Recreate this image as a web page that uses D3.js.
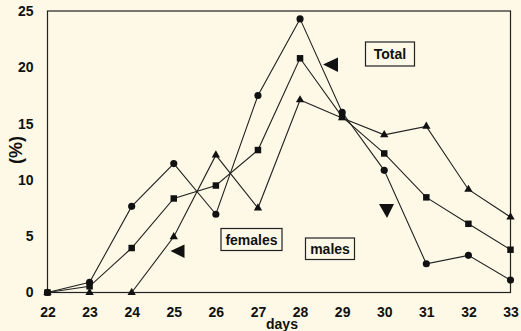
<!DOCTYPE html>
<html>
<head>
<meta charset="utf-8">
<script src="https://cdn.jsdelivr.net/npm/d3@7"></script>
<style>
  body { margin: 0; background: #fdf9e6; }
  svg { display: block; font-family: Arial, "Liberation Sans", sans-serif; }
</style>
</head>
<body>
<div id="chart"></div>
<script>
// data
let days = [22, 23, 24, 25, 26, 27, 28, 29, 30, 31, 32, 33];
let males = [0, 0.9, 7.65, 11.45, 6.95, 17.5, 24.3, 16.0, 10.85, 2.55, 3.3, 1.1];
let total = [0, 0.55, 3.95, 8.35, 9.5, 12.65, 20.8, 15.6, 12.35, 8.45, 6.1, 3.8];
let females = [0, 0, 0, 4.95, 12.2, 7.5, 17.1, 15.5, 14.0, 14.75, 9.15, 6.7];
let yTicks = [0, 5, 10, 15, 20, 25];

let width = 521, height = 331;
let x = d3.scaleLinear().domain([22, 33]).range([47.5, 510.5]);
let y = d3.scaleLinear().domain([0, 25]).range([292.5, 11]);

let svg = d3.select("#chart").append("svg")
    .attr("width", width).attr("height", height);

svg.append("rect").attr("width", width).attr("height", height).attr("fill", "#fdf9e6");

//frame
svg.append("rect")
    .attr("x", x(22)).attr("y", y(25))
    .attr("width", x(33) - x(22)).attr("height", y(0) - y(25))
    .attr("fill", "none").attr("stroke", "#222").attr("stroke-width", 1.2);

let xAxis = svg.append("g")
    .attr("transform", "translate(0," + y(0) + ")")
    .call(d3.axisBottom(x).tickValues(days).tickFormat(d3.format("d")).tickSize(0).tickPadding(14.5));
let yAxis = svg.append("g")
    .attr("transform", "translate(" + x(22) + ",0)")
    .call(d3.axisLeft(y).tickValues(yTicks).tickSize(0).tickPadding(14));
[xAxis, yAxis].forEach(function(a) {
    a.select(".domain").remove();
    a.selectAll("text").attr("font-size", 14).attr("font-weight", "bold")
        .attr("fill", "#111").attr("font-family", "Arial, 'Liberation Sans', sans-serif");
});

svg.append("text").attr("x", 282).attr("y", 329).attr("text-anchor", "middle")
    .attr("font-size", 14).attr("font-weight", "bold").attr("fill", "#111").text("days");
svg.append("text").attr("transform", "translate(21.5,150) rotate(-90)").attr("text-anchor", "middle")
    .attr("font-size", 18).attr("font-weight", "bold").attr("fill", "#111").text("(%)");

let line = d3.line().x(function(d, i) { return x(days[i]); }).y(function(d) { return y(d); });

let series = [
    {values: males, shape: d3.symbolCircle, size: 40},
    {values: total, shape: d3.symbolSquare, size: 42},
    {values: females, shape: d3.symbolTriangle, size: 30}
];

series.forEach(function(s) {
    svg.append("path").datum(s.values)
        .attr("d", line).attr("fill", "none")
        .attr("stroke", "#222").attr("stroke-width", 1.1);
    svg.selectAll(null).data(s.values).enter().append("path")
        .attr("d", d3.symbol().type(s.shape).size(s.size))
        .attr("transform", function(d, i) { return "translate(" + x(days[i]) + "," + y(d) + ")"; })
        .attr("fill", "#111");
});

//labels in boxes
let labels = [
    {text: "Total", x: 365.5, y: 42, w: 49, h: 24},
    {text: "females", x: 221, y: 228.5, w: 61, h: 22},
    {text: "males", x: 305.5, y: 238, w: 49, h: 21.5}
];
labels.forEach(function(l) {
    svg.append("rect").attr("x", l.x).attr("y", l.y).attr("width", l.w).attr("height", l.h)
        .attr("fill", "none").attr("stroke", "#222").attr("stroke-width", 1.2);
    svg.append("text").attr("x", l.x + l.w / 2).attr("y", l.y + l.h / 2 + 5)
        .attr("text-anchor", "middle").attr("font-size", 14).attr("font-weight", "bold")
        .attr("fill", "#111").text(l.text);
});

//arrows
let arrows = [
    [[323, 64.5], [338, 57.5], [338, 72]],
    [[170.5, 251], [184.5, 244.5], [184.5, 258]],
    [[379, 204], [394, 204], [387, 218]]
];
arrows.forEach(function(a) {
    svg.append("path").attr("d", "M" + a.join("L") + "Z").attr("fill", "#111");
});
</script>
</body>
</html>
